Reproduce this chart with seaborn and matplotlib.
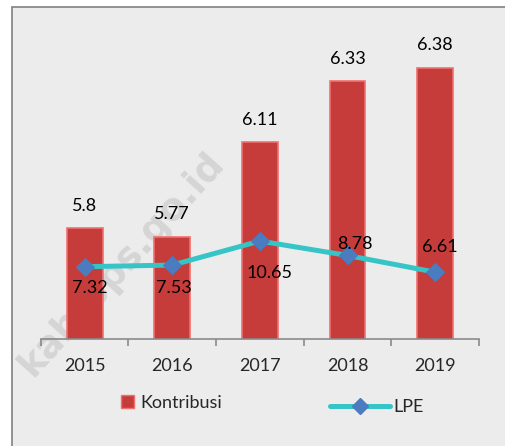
import numpy as np
import pandas as pd
import seaborn as sns
import matplotlib.pyplot as plt
from matplotlib.patches import Rectangle
from matplotlib.lines import Line2D

years = ['2015', '2016', '2017', '2018', '2019']
kontribusi = [5.8, 5.77, 6.11, 6.33, 6.38]
lpe = [7.32, 7.53, 10.65, 8.78, 6.61]

# label offsets (points) for the LPE values, as placed in the source chart
lpe_offsets = [(3.6, -15.5), (1.2, -16.5), (7.0, -23.0), (5.0, 8.6), (3.0, 18.0)]

sns.set_style('white')
plt.rcParams['font.family'] = ['Lato', 'DejaVu Sans']

df = pd.DataFrame({'year': years, 'Kontribusi': kontribusi, 'LPE': lpe})
df['pos'] = np.arange(len(df))

fig = plt.figure(figsize=(5.06, 4.46), dpi=100)
fig.patch.set_facecolor('white')

# grey chart panel with border
panel = Rectangle((12 / 506, -0.2), 1.2, 1.2 - 7 / 446, transform=fig.transFigure,
                  facecolor='#ececec', edgecolor='#8a8a8a', linewidth=1.3, zorder=-5)
fig.patches.append(panel)

ax = fig.add_axes([40.7 / 506, 107 / 446, 438.3 / 506, 319 / 446])
ax.patch.set_visible(False)

sns.barplot(data=df, x='year', y='Kontribusi', ax=ax, width=0.41,
            color='#c63c3a', edgecolor='#f07070', linewidth=1.2, saturation=1)
ax.set_ylim(5.40, 5.40 + 319 / 277)

for i, v in enumerate(kontribusi):
    ax.annotate(f'{v:g}', (i, v), xytext=(0, 16), textcoords='offset points',
                ha='center', va='center', fontsize=13, color='black')

# watermark behind the bars
ax.text(122 / 506, 1 - 264 / 446, 'kab.bps.go.id', transform=fig.transFigure,
        rotation=48, ha='center', va='center', fontsize=27, fontweight='bold',
        family='DejaVu Sans', color='#d5d5d5', zorder=0.5, clip_on=False)

ax2 = ax.twinx()
sns.lineplot(data=df, x='pos', y='LPE', ax=ax2, color='#36c4c6', linewidth=3.6,
             marker='D', markersize=9, markerfacecolor='#4a7cbf',
             markeredgecolor='#4a7cbf')
ax2.set_ylim(-2.07, -2.07 + 319 / 7.7)
for i, v in enumerate(lpe):
    ax2.annotate(f'{v:g}', (i, v), xytext=lpe_offsets[i], textcoords='offset points',
                 ha='center', va='center', fontsize=13, color='black')

for a in (ax, ax2):
    a.set_ylabel('')
    a.set_yticks([])
    for s in ('top', 'right', 'left'):
        a.spines[s].set_visible(False)
ax2.spines['bottom'].set_visible(False)
ax.spines['bottom'].set_color('#8a8a8a')
ax.spines['bottom'].set_linewidth(1.2)

ax.set_xticks(range(len(years)))
ax.set_xticklabels(years, fontsize=13)
ax.set_xticks(np.arange(-0.5, 5, 1), minor=True)
ax.set_xlim(-0.5, 4.5)
ax.set_xlabel('')
ax.tick_params(axis='x', which='major', bottom=False, length=0, pad=14)
ax.tick_params(axis='x', which='minor', bottom=True, length=5, width=1.2,
               color='#8a8a8a', direction='out')

bar_handle = Rectangle((0, 0), 1, 1, facecolor='#c63c3a', edgecolor='#f07070', linewidth=1)
line_handle = Line2D([], [], color='#36c4c6', linewidth=3.6, marker='D', markersize=8,
                     markerfacecolor='#4a7cbf', markeredgecolor='#4a7cbf')
fig.legend(handles=[bar_handle], labels=['Kontribusi'], loc='center left',
           bbox_to_anchor=(121 / 506, 1 - 403 / 446), frameon=False, fontsize=13,
           handlelength=0.7, handleheight=0.7, handletextpad=0.4,
           borderpad=0, borderaxespad=0)
fig.legend(handles=[line_handle], labels=['LPE'], loc='center left',
           bbox_to_anchor=(330 / 506, 1 - 407 / 446), frameon=False, fontsize=13,
           handlelength=3.3, handletextpad=0.2, borderpad=0, borderaxespad=0)

fig.savefig('out.png', dpi=100, facecolor='white')
